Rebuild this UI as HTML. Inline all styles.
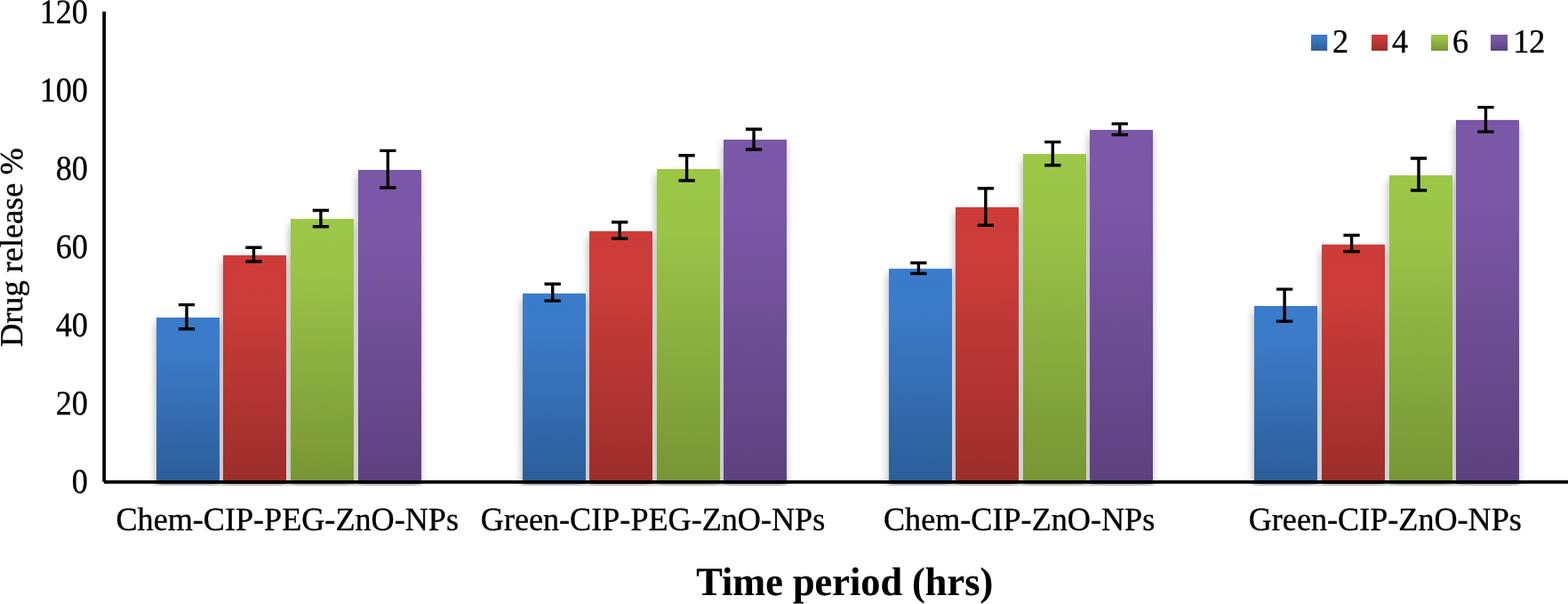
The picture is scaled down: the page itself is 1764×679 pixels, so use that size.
<!DOCTYPE html>
<html lang="en">
<head>
<meta charset="utf-8">
<title>Drug release chart</title>
<style>
html,body{margin:0;padding:0;background:#fff;}
body{width:1764px;height:679px;overflow:hidden;}
svg{display:block;}
text{font-family:"Liberation Serif",serif;fill:#000;stroke:#000;stroke-width:0.35px;text-rendering:geometricPrecision;}
</style>
</head>
<body>
<svg width="1764" height="679" viewBox="0 0 1764 679">
<defs>
<linearGradient id="gb" x1="0" y1="1" x2="0" y2="0"><stop offset="0" stop-color="#2C5D98"/><stop offset="0.8" stop-color="#3C7BC7"/><stop offset="1" stop-color="#3A7CCB"/></linearGradient>
<linearGradient id="gr" x1="0" y1="1" x2="0" y2="0"><stop offset="0" stop-color="#9B2D2A"/><stop offset="0.8" stop-color="#CB3D3A"/><stop offset="1" stop-color="#CE3B37"/></linearGradient>
<linearGradient id="gg" x1="0" y1="1" x2="0" y2="0"><stop offset="0" stop-color="#769535"/><stop offset="0.8" stop-color="#9BC348"/><stop offset="1" stop-color="#9CC746"/></linearGradient>
<linearGradient id="gp" x1="0" y1="1" x2="0" y2="0"><stop offset="0" stop-color="#5D417E"/><stop offset="0.8" stop-color="#7B58A6"/><stop offset="1" stop-color="#7B57A8"/></linearGradient>
<filter id="sh" x="-30%" y="-10%" width="160%" height="120%"><feGaussianBlur in="SourceAlpha" stdDeviation="4.8"/><feOffset dx="-0.7" dy="6"/><feComponentTransfer><feFuncA type="linear" slope="0.3"/></feComponentTransfer></filter>
<clipPath id="plotclip"><rect x="0" y="0" width="1764" height="546"/></clipPath>
</defs>
<rect width="1764" height="679" fill="#fff"/>
<g clip-path="url(#plotclip)">
<g filter="url(#sh)">
<rect x="176" y="357" width="71" height="186.8"/>
<rect x="251" y="287" width="71" height="256.8"/>
<rect x="327" y="246.1" width="71" height="297.7"/>
<rect x="403" y="191" width="71" height="352.8"/>
<rect x="588" y="329.9" width="71" height="213.9"/>
<rect x="663" y="259.9" width="71" height="283.9"/>
<rect x="739" y="190" width="71" height="353.8"/>
<rect x="814" y="157" width="71" height="386.8"/>
<rect x="1000" y="302.1" width="71" height="241.7"/>
<rect x="1075" y="233" width="71" height="310.8"/>
<rect x="1151" y="173.1" width="71" height="370.7"/>
<rect x="1226" y="146.05" width="71" height="397.75"/>
<rect x="1411" y="344" width="71" height="199.8"/>
<rect x="1487" y="274.9" width="71" height="268.9"/>
<rect x="1563" y="197.1" width="71" height="346.7"/>
<rect x="1638" y="134.9" width="71" height="408.9"/>
</g>
<rect x="176" y="357" width="71" height="186.8" fill="url(#gb)"/>
<rect x="251" y="287" width="71" height="256.8" fill="url(#gr)"/>
<rect x="327" y="246.1" width="71" height="297.7" fill="url(#gg)"/>
<rect x="403" y="191" width="71" height="352.8" fill="url(#gp)"/>
<rect x="588" y="329.9" width="71" height="213.9" fill="url(#gb)"/>
<rect x="663" y="259.9" width="71" height="283.9" fill="url(#gr)"/>
<rect x="739" y="190" width="71" height="353.8" fill="url(#gg)"/>
<rect x="814" y="157" width="71" height="386.8" fill="url(#gp)"/>
<rect x="1000" y="302.1" width="71" height="241.7" fill="url(#gb)"/>
<rect x="1075" y="233" width="71" height="310.8" fill="url(#gr)"/>
<rect x="1151" y="173.1" width="71" height="370.7" fill="url(#gg)"/>
<rect x="1226" y="146.05" width="71" height="397.75" fill="url(#gp)"/>
<rect x="1411" y="344" width="71" height="199.8" fill="url(#gb)"/>
<rect x="1487" y="274.9" width="71" height="268.9" fill="url(#gr)"/>
<rect x="1563" y="197.1" width="71" height="346.7" fill="url(#gg)"/>
<rect x="1638" y="134.9" width="71" height="408.9" fill="url(#gp)"/>
</g>
<path d="M117.15 12.9V541.8" fill="none" stroke="#000" stroke-width="3.76"/>
<path d="M117 541.8H1766" fill="none" stroke="#000" stroke-width="3.8"/>
<g stroke="#000" stroke-width="3.4" fill="none">
<path d="M200.85 342.6H219.15M200.85 369.8H219.15M210 342.6V369.8"/>
<path d="M276.3 278.3H294.6M276.3 294H294.6M285.45 278.3V294"/>
<path d="M351.75 236.5H370.05M351.75 254.8H370.05M360.9 236.5V254.8"/>
<path d="M427.2 169.4H445.5M427.2 211H445.5M436.35 169.4V211"/>
<path d="M612.55 319.3H630.85M612.55 338.2H630.85M621.7 319.3V338.2"/>
<path d="M688 249.8H706.3M688 268.2H706.3M697.15 249.8V268.2"/>
<path d="M763.45 174.8H781.75M763.45 203H781.75M772.6 174.8V203"/>
<path d="M838.9 145.2H857.2M838.9 168H857.2M848.05 145.2V168"/>
<path d="M1024.25 295.5H1042.55M1024.25 307.5H1042.55M1033.4 295.5V307.5"/>
<path d="M1099.7 211.8H1118M1099.7 253.3H1118M1108.85 211.8V253.3"/>
<path d="M1175.15 159.6H1193.45M1175.15 185.8H1193.45M1184.3 159.6V185.8"/>
<path d="M1250.6 139.1H1268.9M1250.6 151.5H1268.9M1259.75 139.1V151.5"/>
<path d="M1435.95 325.1H1454.25M1435.95 361.3H1454.25M1445.1 325.1V361.3"/>
<path d="M1511.4 264.5H1529.7M1511.4 282.8H1529.7M1520.55 264.5V282.8"/>
<path d="M1586.85 178H1605.15M1586.85 214H1605.15M1596 178V214"/>
<path d="M1662.3 120.6H1680.6M1662.3 148.1H1680.6M1671.45 120.6V148.1"/>
</g>
<g font-size="36.15">
<text transform="translate(98.9 553.7) scale(1 1.07)" text-anchor="end">0</text>
<text transform="translate(98.9 465.7) scale(1 1.07)" text-anchor="end">20</text>
<text transform="translate(98.9 377.7) scale(1 1.07)" text-anchor="end">40</text>
<text transform="translate(98.9 289.7) scale(1 1.07)" text-anchor="end">60</text>
<text transform="translate(98.9 201.7) scale(1 1.07)" text-anchor="end">80</text>
<text transform="translate(98.9 113.7) scale(1 1.07)" text-anchor="end">100</text>
<text transform="translate(98.9 25.7) scale(1 1.07)" text-anchor="end">120</text>
</g>
<g font-size="36.15">
<text transform="translate(323.2 596.2) scale(1 1.02)" text-anchor="middle">Chem-CIP-PEG-ZnO-NPs</text>
<text transform="translate(734.5 596.2) scale(1 1.02)" text-anchor="middle">Green-CIP-PEG-ZnO-NPs</text>
<text transform="translate(1146.6 596.2) scale(1 1.02)" text-anchor="middle">Chem-CIP-ZnO-NPs</text>
<text transform="translate(1558.3 596.2) scale(1 1.02)" text-anchor="middle">Green-CIP-ZnO-NPs</text>
</g>
<text transform="translate(950.2 669) scale(1 1.015)" text-anchor="middle" font-size="44.3" font-weight="bold" style="stroke-width:0.12px">Time period (hrs)</text>
<text transform="translate(25 278.2) rotate(-90)" font-size="36.3" text-anchor="middle">Drug release %</text>
<g font-size="36.15">
<rect x="1475" y="39" width="18.2" height="18" fill="url(#gb)"/><text transform="translate(1499 59.2) scale(1 1.04)">2</text>
<rect x="1543" y="39" width="18.1" height="18" fill="url(#gr)"/><text transform="translate(1566 59.2) scale(1 1.04)">4</text>
<rect x="1610" y="39" width="19" height="18" fill="url(#gg)"/><text transform="translate(1634 59.2) scale(1 1.04)">6</text>
<rect x="1677" y="39" width="19" height="18" fill="url(#gp)"/><text transform="translate(1702.2 59.2) scale(1 1.04)">12</text>
</g>
</svg>
</body>
</html>
